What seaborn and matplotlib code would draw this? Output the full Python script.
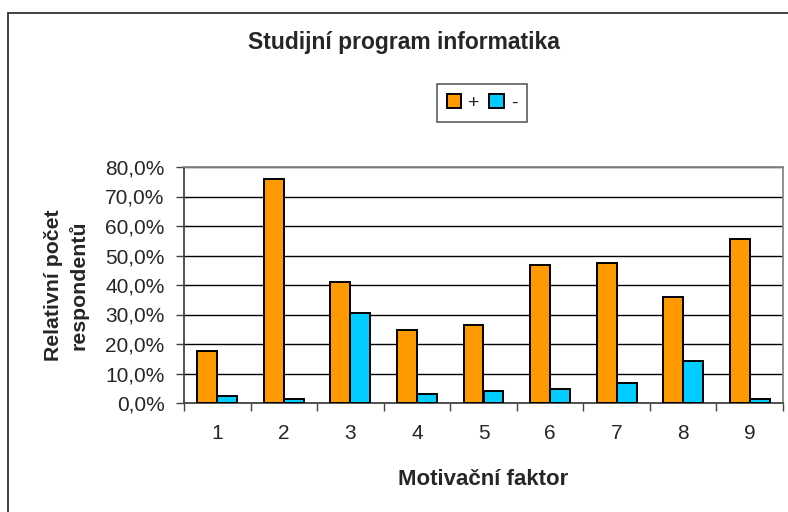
import numpy as np
import pandas as pd
import matplotlib
matplotlib.use("Agg")
import matplotlib.pyplot as plt
from matplotlib.patches import Rectangle
from matplotlib.ticker import FuncFormatter, FixedLocator
import seaborn as sns

sns.set_style("white")
plt.rcParams['font.family'] = ['Liberation Sans', 'DejaVu Sans']

# data (percent of respondents)
factors = ["1", "2", "3", "4", "5", "6", "7", "8", "9"]
plus_vals = [17.6, 75.8, 41.1, 24.9, 26.4, 46.7, 47.4, 35.8, 55.5]
minus_vals = [2.5, 1.4, 30.4, 3.2, 4.2, 4.7, 6.8, 14.2, 1.5]
series = ["+", "-"]
colors = ["#FF9900", "#00CCFF"]

df = pd.DataFrame({
    "factor": factors * 2,
    "sign": [series[0]] * len(factors) + [series[1]] * len(factors),
    "value": plus_vals + minus_vals,
})

fig = plt.figure(figsize=(7.88, 5.12), dpi=100)
ax = fig.add_axes([184 / 788, 1 - 403 / 512, 599 / 788, 236 / 512])

# outer chart frame (right and bottom edges lie outside the picture)
fig.patches.append(Rectangle((8 / 788, -0.1), 1.2, 0.1 + (1 - 13 / 512),
                             transform=fig.transFigure, fill=False,
                             edgecolor="#333333", linewidth=1.3))

sns.barplot(data=df, x="factor", y="value", hue="sign", palette=colors,
            saturation=1, width=0.6, edgecolor="black", linewidth=1.4,
            ax=ax, zorder=3)

ax.set_ylim(0, 80)
ax.set_xlim(-0.5, len(factors) - 0.5)
ax.set_yticks(np.arange(0, 81, 10))
ax.yaxis.set_major_formatter(FuncFormatter(lambda v, p: f"{v:.1f}%".replace(".", ",")))
ax.grid(axis="y", color="black", linewidth=1.0, zorder=0)
ax.set_axisbelow(True)

# category boundary ticks on x
ax.xaxis.set_minor_locator(FixedLocator(np.arange(-0.5, len(factors), 1.0)))
ax.tick_params(axis="x", which="major", length=0, pad=15, labelsize=15)
ax.tick_params(axis="x", which="minor", length=6, width=1.0, color="#444444", bottom=True)
ax.tick_params(axis="y", length=6, width=1.0, color="#444444", left=True, pad=8, labelsize=15)

for s in ["top", "right"]:
    ax.spines[s].set_color("#888888")
    ax.spines[s].set_linewidth(1.3)
ax.spines["left"].set_color("#444444")
ax.spines["left"].set_linewidth(1.3)
ax.spines["bottom"].set_color("#444444")
ax.spines["bottom"].set_linewidth(1.3)

ax.set_xlabel("Motivační faktor", fontsize=16, fontweight="bold")
ax.xaxis.set_label_coords(0.5, -0.28)
ax.set_ylabel("Relativní počet\nrespondentů", fontsize=15.3, fontweight="bold",
              multialignment="center", linespacing=1.35)
ax.yaxis.set_label_coords(-0.16, 0.5)

fig.text(404 / 788, 1 - 42 / 512, "Studijní program informatika",
         fontsize=16.5, fontweight="bold", ha="center", va="center")

leg = ax.legend(loc="center", bbox_to_anchor=(482 / 788, 1 - 103 / 512),
                bbox_transform=fig.transFigure, ncol=2, fontsize=14,
                frameon=True, fancybox=False, edgecolor="#333333",
                handlelength=0.75, handleheight=0.75, handletextpad=0.35,
                columnspacing=0.5, borderpad=0.5)
leg.get_frame().set_linewidth(1.2)
leg.set_title(None)

fig.savefig("out.png", dpi=100)
